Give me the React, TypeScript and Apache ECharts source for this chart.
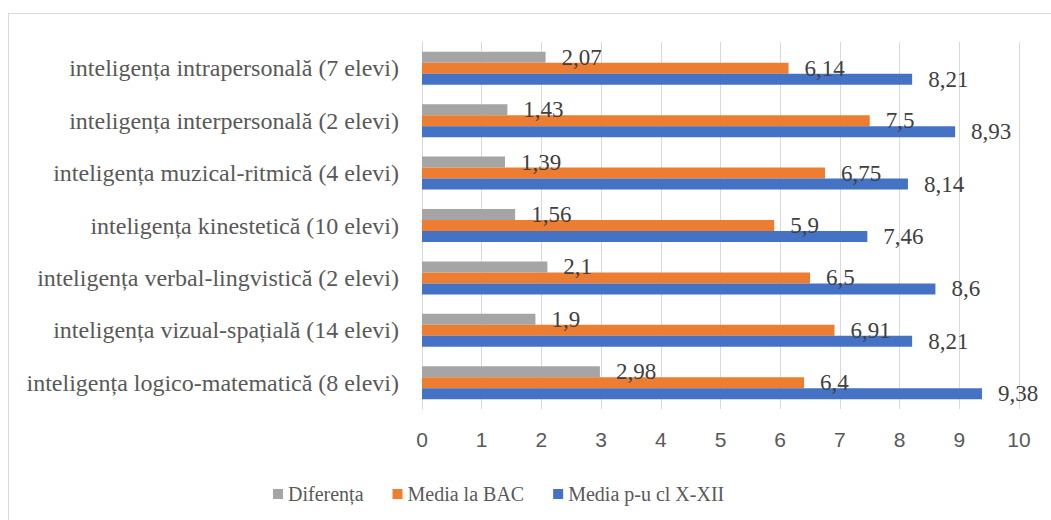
import React, { useEffect, useRef } from "react";
import * as echarts from "echarts";

const categories = [
  "inteligența logico-matematică (8 elevi)",
  "inteligența vizual-spațială (14 elevi)",
  "inteligența verbal-lingvistică (2 elevi)",
  "inteligența kinestetică (10 elevi)",
  "inteligența muzical-ritmică (4 elevi)",
  "inteligența interpersonală (2 elevi)",
  "inteligența intrapersonală (7 elevi)",
];
const diferenta = [2.98, 1.9, 2.1, 1.56, 1.39, 1.43, 2.07];
const mediaBac = [6.4, 6.91, 6.5, 5.9, 6.75, 7.5, 6.14];
const mediaCl = [9.38, 8.21, 8.6, 7.46, 8.14, 8.93, 8.21];
const seriesNames = ["Diferența", "Media la BAC", "Media p-u cl X-XII"];
const xTicks = { min: 0, max: 10, interval: 1 };

const SERIF = "Liberation Serif";
const SANS = "Liberation Sans";

export default function App() {
  const ref = useRef<HTMLDivElement>(null);
  useEffect(() => {
    if (!ref.current) return;
    const chart = echarts.init(ref.current, undefined, { renderer: "svg" });
    const label = {
      show: true,
      position: "right" as const,
      distance: 16,
      fontFamily: SERIF,
      fontSize: 23,
      color: "#404040",
      formatter: (p: any) => String(p.value).replace(".", ","),
    };
    const colors = ["#a5a5a5", "#ed7d31", "#4472c4"];
    const datas = [diferenta, mediaBac, mediaCl];
    chart.setOption({
      animation: false,
      backgroundColor: "#ffffff",
      textStyle: { fontFamily: SERIF },
      grid: { left: 422, width: 597, top: 42, bottom: 111 },
      legend: {
        data: seriesNames,
        left: 268,
        top: 479,
        icon: "rect",
        itemWidth: 10,
        itemHeight: 10,
        itemGap: 29,
        textStyle: { fontFamily: SERIF, fontSize: 20, color: "#595959" },
      },
      xAxis: {
        type: "value",
        min: xTicks.min,
        max: xTicks.max,
        interval: xTicks.interval,
        axisLine: { show: false },
        axisTick: { show: false },
        splitLine: { show: true, lineStyle: { color: "#d9d9d9", width: 1 } },
        axisLabel: { fontFamily: SANS, fontSize: 21, color: "#595959", margin: 20 },
      },
      yAxis: {
        type: "category",
        data: categories,
        axisLine: { show: true, lineStyle: { color: "#d9d9d9" } },
        axisTick: { show: false },
        axisLabel: { fontFamily: SERIF, fontSize: 24, color: "#595959", margin: 23 },
      },
      series: seriesNames.map((name, i) => ({
        name,
        type: "bar",
        data: datas[i],
        barWidth: 11,
        barGap: "0%",
        itemStyle: { color: colors[i] },
        label,
      })),
      graphic: [
        { type: "line", shape: { x1: 8.5, y1: 13, x2: 8.5, y2: 520 }, style: { stroke: "#d9d9d9", lineWidth: 1 } },
        { type: "line", shape: { x1: 8, y1: 13.5, x2: 1051, y2: 13.5 }, style: { stroke: "#d9d9d9", lineWidth: 1 } },
      ],
    });
    return () => chart.dispose();
  }, []);
  return (
    <div
      ref={ref}
      style={{ position: "absolute", left: 0, top: 0, width: 1051, height: 520 }}
    />
  );
}
